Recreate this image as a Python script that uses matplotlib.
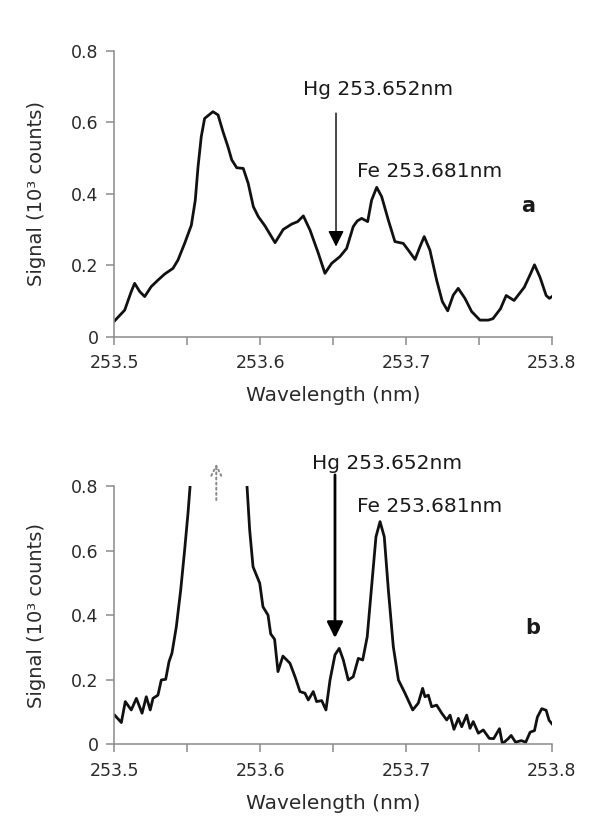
import numpy as np
import matplotlib.pyplot as plt
from matplotlib.ticker import MultipleLocator, FormatStrFormatter

plt.rcParams['font.family'] = ['DejaVu Sans']

# panel a: spectrum (wavelength nm, signal 10^3 counts)
wl_a = [253.5001, 253.5070, 253.5115, 253.5138, 253.5173, 253.5207, 253.5252, 253.5298,
        253.5344, 253.5401, 253.5435, 253.5481, 253.5527, 253.5554, 253.5573, 253.5595,
        253.5618, 253.5675, 253.5710, 253.5744, 253.5778, 253.5804, 253.5838, 253.5883,
        253.5917, 253.5952, 253.5986, 253.6032, 253.6101, 253.6157, 253.6215, 253.6256,
        253.6295, 253.6341, 253.6398, 253.6443, 253.6489, 253.6546, 253.6592, 253.6637,
        253.6665, 253.6695, 253.6736, 253.6763, 253.6798, 253.6832, 253.6878, 253.6923,
        253.6980, 253.7015, 253.7061, 253.7095, 253.7124, 253.7163, 253.7209, 253.7248,
        253.7285, 253.7323, 253.7357, 253.7403, 253.7449, 253.7506, 253.7563, 253.7595,
        253.7647, 253.7686, 253.7740, 253.7810, 253.7853, 253.7880, 253.7918, 253.7960,
        253.7982, 253.8000]
sig_a = [0.044, 0.074, 0.126, 0.149, 0.126, 0.112, 0.140, 0.158,
         0.175, 0.191, 0.214, 0.261, 0.312, 0.382, 0.476, 0.560,
         0.611, 0.630, 0.621, 0.574, 0.532, 0.495, 0.473, 0.471,
         0.429, 0.364, 0.336, 0.310, 0.263, 0.300, 0.315, 0.322,
         0.338, 0.298, 0.233, 0.177, 0.205, 0.224, 0.247, 0.308,
         0.324, 0.331, 0.322, 0.382, 0.418, 0.392, 0.326, 0.266,
         0.261, 0.242, 0.216, 0.252, 0.280, 0.242, 0.158, 0.098,
         0.072, 0.116, 0.135, 0.107, 0.070, 0.046, 0.046, 0.050,
         0.078, 0.115, 0.101, 0.138, 0.176, 0.201, 0.166, 0.115,
         0.107, 0.112]

# panel b: spectrum, main peak goes off scale
wl_b = [253.5001, 253.5047, 253.5074, 253.5115, 253.5150, 253.5189, 253.5218, 253.5245,
        253.5264, 253.5298, 253.5321, 253.5351, 253.5374, 253.5394, 253.5424, 253.5454,
        253.5481, 253.5504, 253.5518, 253.5560, 253.5696, 253.5840, 253.5909, 253.5927,
        253.5950, 253.5996, 253.6018, 253.6053, 253.6071, 253.6098, 253.6121, 253.6155,
        253.6203, 253.6238, 253.6272, 253.6306, 253.6329, 253.6363, 253.6386, 253.6421,
        253.6450, 253.6478, 253.6512, 253.6541, 253.6569, 253.6603, 253.6637, 253.6672,
        253.6702, 253.6733, 253.6763, 253.6793, 253.6821, 253.6850, 253.6878, 253.6912,
        253.6947, 253.6992, 253.7045, 253.7083, 253.7113, 253.7129, 253.7152, 253.7175,
        253.7209, 253.7244, 253.7278, 253.7301, 253.7328, 253.7358, 253.7381, 253.7415,
        253.7438, 253.7460, 253.7495, 253.7529, 253.7570, 253.7600, 253.7640, 253.7660,
        253.7700, 253.7720, 253.7750, 253.7790, 253.7820, 253.7850, 253.7880, 253.7900,
        253.7930, 253.7960, 253.7980, 253.8000]
sig_b = [0.091, 0.068, 0.133, 0.107, 0.143, 0.097, 0.148, 0.107,
         0.143, 0.153, 0.200, 0.202, 0.257, 0.283, 0.365, 0.479,
         0.603, 0.717, 0.799, 1.200, 2.000, 1.200, 0.799, 0.665,
         0.551, 0.500, 0.427, 0.401, 0.343, 0.326, 0.226, 0.274,
         0.252, 0.210, 0.164, 0.159, 0.138, 0.164, 0.133, 0.136,
         0.107, 0.200, 0.278, 0.298, 0.262, 0.200, 0.210, 0.267,
         0.262, 0.334, 0.489, 0.644, 0.691, 0.644, 0.479, 0.303,
         0.200, 0.159, 0.107, 0.128, 0.174, 0.148, 0.153, 0.117,
         0.122, 0.097, 0.076, 0.091, 0.047, 0.081, 0.055, 0.091,
         0.050, 0.071, 0.035, 0.045, 0.019, 0.018, 0.049, 0.002,
         0.018, 0.028, 0.007, 0.012, 0.007, 0.038, 0.043, 0.085,
         0.111, 0.106, 0.075, 0.064]

fig = plt.figure(figsize=(5.92, 8.19), dpi=100)
ax_a = fig.add_axes([0.1934, 0.5891, 0.739, 0.3486])
ax_b = fig.add_axes([0.1934, 0.0910, 0.739, 0.3150])


def style(ax):
    ax.set_xlim(253.5, 253.8)
    ax.set_ylim(0, 0.8)
    ax.spines['top'].set_visible(False)
    ax.spines['right'].set_visible(False)
    for s in ['left', 'bottom']:
        ax.spines[s].set_color('#8a8a8a')
        ax.spines[s].set_linewidth(1.1)
    ax.xaxis.set_major_locator(MultipleLocator(0.1))
    ax.xaxis.set_minor_locator(MultipleLocator(0.05))
    ax.xaxis.set_major_formatter(FormatStrFormatter('%.1f'))
    ax.set_yticks([0, 0.2, 0.4, 0.6, 0.8])
    ax.set_yticklabels(['0', '0.2', '0.4', '0.6', '0.8'])
    ax.tick_params(which='both', direction='out', length=5.5, width=1.1,
                   color='#8a8a8a', labelsize=12.5, labelcolor='#2a2a2a')
    ax.tick_params(axis='x', pad=7)
    ax.tick_params(axis='y', pad=6)
    ax.set_xlabel('Wavelength (nm)', fontsize=14.5, color='#2a2a2a', labelpad=10)
    ax.set_ylabel('Signal (10³ counts)', fontsize=14, color='#2a2a2a', labelpad=18)


style(ax_a)
style(ax_b)

ax_a.plot(wl_a, sig_a, color='#111111', lw=2.0, solid_joinstyle='round')
ax_b.plot(wl_b, sig_b, color='#111111', lw=2.0, solid_joinstyle='round')

# panel a annotations
ax_a.annotate('', xy=(253.6519, 0.252), xytext=(253.6519, 0.626),
              arrowprops=dict(arrowstyle='-|>', lw=1.0, color='black',
                              mutation_scale=24, shrinkA=0, shrinkB=0))
ax_a.text(253.6804, 0.693, 'Hg 253.652nm', ha='center', va='center',
          fontsize=14.5, color='#1a1a1a')
ax_a.text(253.716, 0.462, 'Fe 253.681nm', ha='center', va='center',
          fontsize=14.5, color='#1a1a1a')
ax_a.text(253.7839, 0.366, 'a', ha='center', va='center', fontsize=15,
          fontweight='bold', color='#1a1a1a')

# panel b annotations
ax_b.annotate('', xy=(253.6512, 0.330), xytext=(253.6512, 0.836),
              arrowprops=dict(arrowstyle='-|>', lw=2.0, color='black',
                              mutation_scale=24, shrinkA=0, shrinkB=0),
              annotation_clip=False)
ax_b.annotate('', xy=(253.5698, 0.871), xytext=(253.5698, 0.758),
              arrowprops=dict(arrowstyle='->', lw=1.4, color='#888888', ls=':',
                              mutation_scale=18, shrinkA=0, shrinkB=0),
              annotation_clip=False)
ax_b.text(253.6866, 0.872, 'Hg 253.652nm', ha='center', va='center',
          fontsize=14.5, color='#1a1a1a')
ax_b.text(253.716, 0.737, 'Fe 253.681nm', ha='center', va='center',
          fontsize=14.5, color='#1a1a1a')
ax_b.text(253.7865, 0.361, 'b', ha='center', va='center', fontsize=15,
          fontweight='bold', color='#1a1a1a')

fig.savefig('out.png', dpi=100)
